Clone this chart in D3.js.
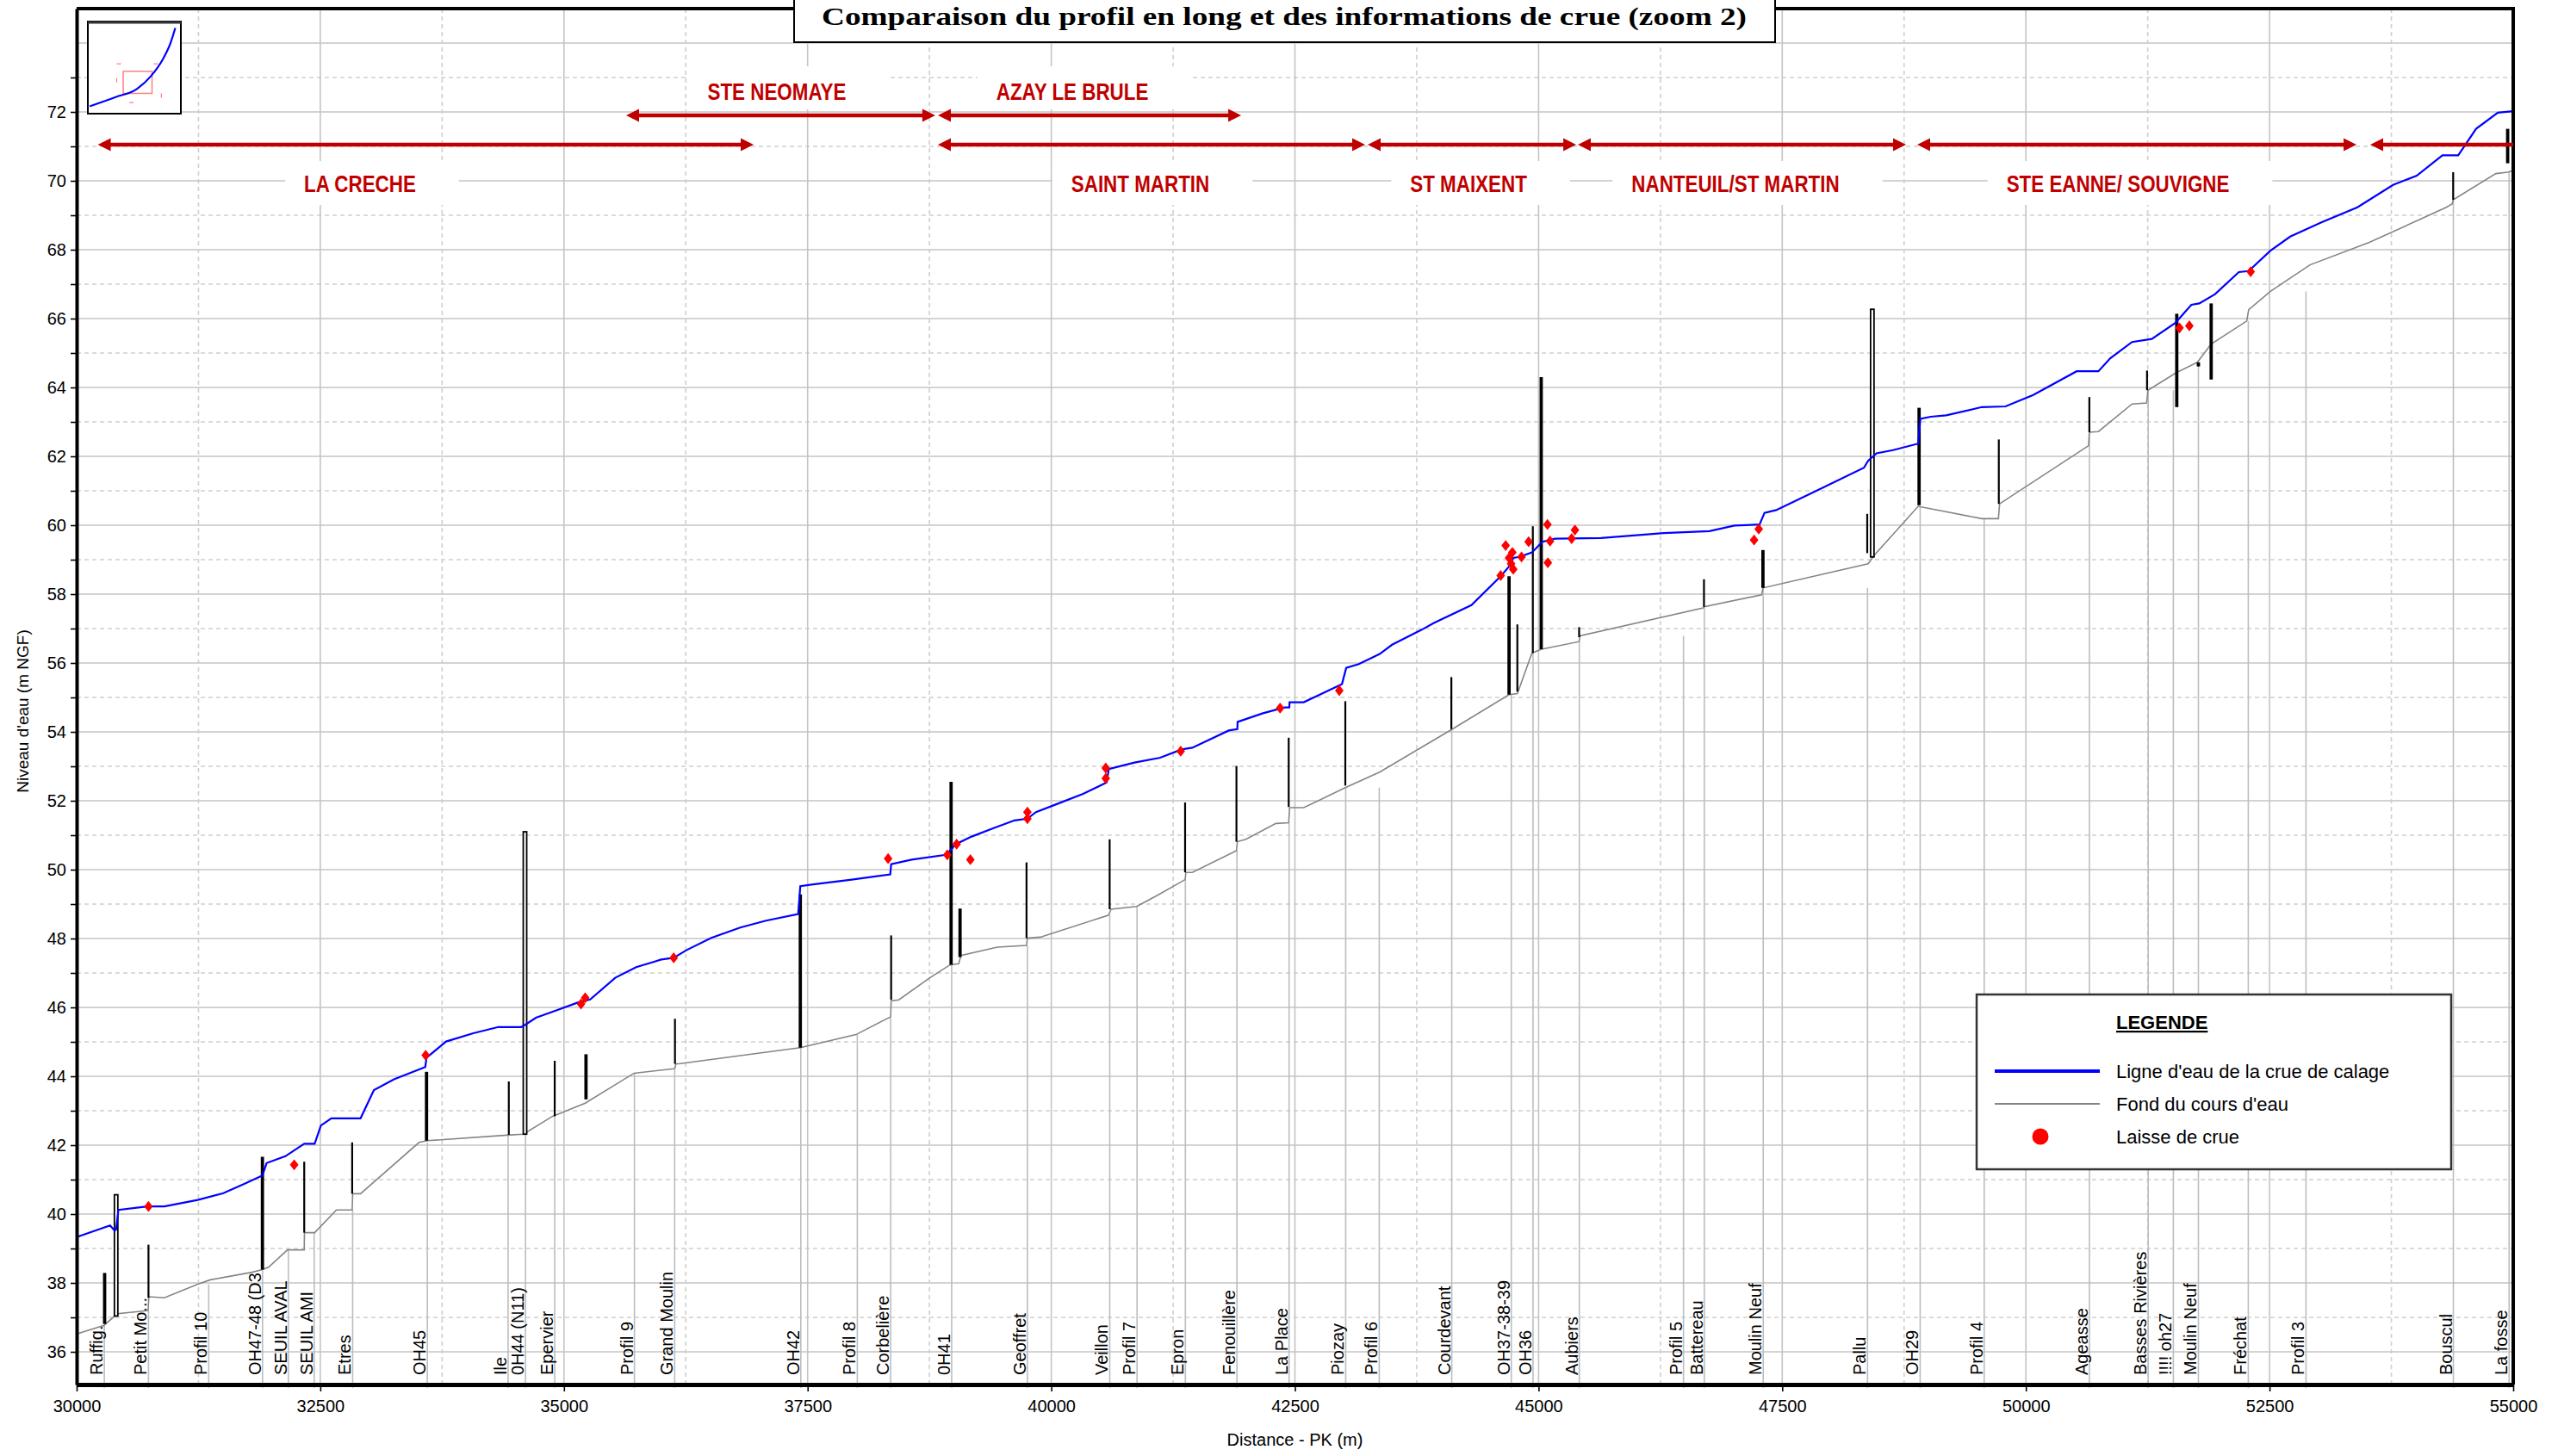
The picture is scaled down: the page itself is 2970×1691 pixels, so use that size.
<!DOCTYPE html>
<html>
<head>
<meta charset="utf-8">
<script src="https://cdn.jsdelivr.net/npm/d3@7"></script>
<style>
body { margin: 0; background: #fff; }
svg { display: block; }
</style>
</head>
<body>
<div id="chart"></div>
<script>
// ligne d'eau de la crue de calage (PK en m, cote en m NGF)
var waterPK = [30000,30343,30390,30405,30428,30728,30900,31242,31500,31714,31906,31949,32142,32335,32442,32506,32613,32913,33050,33256,33577,33590,33791,34070,34327,34562,34605,34712,34927,35141,35269,35526,35741,35998,36126,36255,36512,36809,37073,37403,37412,37425,37557,37952,38348,38357,38568,38919,38985,39007,39183,39403,39623,39755,39843,40062,40326,40568,40590,40854,41117,41337,41447,41821,41909,41912,42172,42392,42442,42445,42590,42983,43026,43155,43369,43497,43797,43926,44311,44611,44697,44740,44804,44932,45040,45168,45639,46282,46753,47010,47267,47318,47438,47910,48338,48381,48467,48638,48895,48917,49024,49182,49548,49791,50075,50521,50744,50866,51089,51292,51535,51698,51779,51941,52185,52286,52509,52712,53037,53402,53767,54010,54274,54436,54619,54842,55000];
var waterZ = [39.33,39.67,39.52,39.55,40.12,40.22,40.22,40.41,40.6,40.87,41.12,41.48,41.68,42.04,42.04,42.57,42.78,42.78,43.6,43.91,44.27,44.54,45.01,45.25,45.43,45.43,45.5,45.7,45.92,46.14,46.23,46.86,47.17,47.39,47.44,47.66,48.02,48.32,48.52,48.71,49.04,49.52,49.57,49.71,49.86,50.16,50.29,50.43,50.62,50.72,50.96,51.2,51.43,51.48,51.67,51.91,52.2,52.53,52.92,53.11,53.25,53.49,53.54,54.04,54.08,54.29,54.54,54.71,54.71,54.86,54.86,55.39,55.86,55.97,56.26,56.53,56.96,57.16,57.68,58.52,58.8,59.05,59.08,59.21,59.52,59.61,59.63,59.77,59.83,59.99,60.02,60.36,60.44,61.08,61.67,61.87,62.09,62.18,62.37,63.09,63.15,63.19,63.43,63.45,63.78,64.47,64.47,64.85,65.32,65.41,65.88,66.4,66.44,66.71,67.35,67.38,67.97,68.38,68.8,69.23,69.88,70.15,70.74,70.74,71.51,71.98,72.02];

// fond du cours d'eau
var bedPK = [30000,30282,30390,30400,30733,30740,30900,31242,31371,31798,31906,31971,32163,32335,32337,32442,32665,32827,32832,32913,33513,33598,34413,34584,34884,35218,35719,36126,36139,36148,36194,37425,37996,38326,38352,38357,38436,38744,38963,39051,39073,39447,39746,39755,39887,40590,40612,40876,41074,41373,41381,41447,41900,41909,41997,42305,42436,42445,42590,43017,43369,44097,44697,44782,44804,44932,45031,45416,45425,46689,46697,47289,47302,48381,48445,48895,49548,49718,49730,50643,50651,50744,51089,51239,51252,51544,51759,51901,52266,52286,52509,52915,53523,54314,54375,54384,54822,54943,55000];
var bedZ = [36.52,36.77,37.04,37.1,37.2,37.6,37.57,37.96,38.09,38.31,38.39,38.46,38.96,38.96,39.46,39.46,40.12,40.12,40.59,40.59,42.08,42.13,42.29,42.32,42.84,43.22,44.09,44.22,44.24,44.36,44.37,44.83,45.21,45.69,45.72,46.19,46.22,46.84,47.24,47.27,47.51,47.75,47.8,48.01,48.04,48.68,48.85,48.93,49.23,49.71,49.92,49.92,50.55,50.81,50.88,51.34,51.36,51.8,51.8,52.38,52.83,54.05,55.08,55.11,55.28,56.29,56.4,56.62,56.79,57.6,57.63,57.98,58.18,58.88,59.13,60.55,60.19,60.19,60.62,62.31,62.7,62.72,63.52,63.55,63.92,64.43,64.73,65.26,65.93,66.26,66.79,67.56,68.21,69.23,69.33,69.45,70.21,70.25,70.3];

// laisses de crue
var laissePK = [30737,32232,33581,35175,35218,36126,38326,38933,39029,39170,39755,39755,40559,40559,41328,42348,42955,44611,44662,44697,44731,44718,44740,44825,44898,45091,45117,45095,45339,45373,47211,47259,51576,51677,52306];
var laisseZ = [40.22,41.43,44.61,46.1,46.28,47.44,50.32,50.43,50.74,50.29,51.67,51.48,52.95,52.65,53.44,54.69,55.2,58.54,59.41,59.05,59.21,58.88,58.72,59.08,59.52,60.02,59.54,58.91,59.61,59.86,59.57,59.89,65.73,65.79,67.36];

// ouvrages (ponts, seuils)
var structPK = [30287,30405,30737,31906,32335,32827,33590,34434,34600,34905,35226,36139,37425,38357,38972,39064,39746,40599,41373,41900,42436,43017,44105,44697,44782,44941,45027,45416,46697,47302,48372,48424,48904,49722,50651,51243,51548,51770,51901,54384,54943];
var structLow = [36.81,37.04,37.57,38.39,39.46,40.59,42.13,42.3,42.32,42.84,43.33,44.36,44.83,46.22,47.24,47.46,48.01,48.85,49.92,50.81,51.82,52.44,54.08,55.08,55.17,56.29,56.4,56.75,57.63,58.18,59.19,59.08,60.58,60.62,62.7,63.92,63.43,64.61,64.23,69.45,70.51];
var structHigh = [38.29,40.56,39.11,41.66,41.52,42.08,44.13,43.85,51.1,44.45,44.64,45.67,49.28,48.09,52.55,48.87,50.21,50.88,51.95,53.01,53.83,54.89,55.59,58.52,57.12,59.97,64.3,57.04,58.43,59.28,60.33,66.27,63.41,62.49,63.72,64.49,66.14,64.73,66.44,70.25,71.51];
var structKind = ["thick","box","thin","thick","thin","thin","thick","thin","box","thin","thick","thin","thick","thin","thick","thick","thin","thin","thin","thin","thin","thin","thin","thick","thin","thin","thick","thin","thin","thick","thin","box","thick","thin","thin","thin","thick","thick","thick","thin","thick"];

// profils en travers
var stationNames = ["Ruffig.","Petit Mo...","Profil 10","OH47-48 (D3","SEUIL AVAL","SEUIL AMI","Etres","OH45","Ile","0H44 (N11)","Epervier","Profil 9","Grand Moulin","OH42","Profil 8","Corbelière","0H41","Geoffret","Veillon","Profil 7","Epron","Fenouillère","La Place","Piozay","Profil 6","Courdevant","OH37-38-39","OH36","Aubiers","Profil 5","Battereau","Moulin Neuf","Pallu","OH29","Profil 4","Ageasse","Basses Rivières","!!!! oh27","Moulin Neuf","Fréchat","Profil 3","Bouscul","La fosse"];
var stationPK = [30284,30737,31355,31907,32172,32437,32832,33598,34427,34605,34905,35723,36136,37430,38010,38352,38978,39755,40600,40880,41376,41905,42440,43021,43365,44109,44720,44943,45418,46487,46700,47305,48375,48915,49572,50652,51255,51513,51770,52282,52874,54386,54958];

// tronçons (communes)
var reachNames = ["STE NEOMAYE","AZAY LE BRULE","LA CRECHE","SAINT MARTIN","ST MAIXENT","NANTEUIL/ST MARTIN","STE EANNE/ SOUVIGNE",""];
var reachStart = [35638,38837,30217,38837,43247,45403,48885,53533];
var reachEnd = [38810,41948,36946,43220,45386,48770,53392,56500];
var reachLabelPK = [37184,40216,32907,40914,44281,47020,50944,0];
var reachRow = [0,0,1,1,1,1,1,1];

// vignette de situation (coordonnées relatives)
var overviewX = [0.02,0.30,0.53,0.68,0.80,0.89,0.94];
var overviewY = [0.08,0.18,0.27,0.41,0.58,0.77,0.93];

var yTicks = d3.range(36, 73, 2);
var xTicks = d3.range(30000, 55001, 2500);

var width = 2970, height = 1691;
var plotL = 89, plotR = 2918, plotT = 10, plotB = 1608;

var x = d3.scaleLinear().domain([30000, 55000]).range([plotL, plotR]);
var y = d3.scaleLinear().domain([35.05, 75]).range([plotB, plotT]);

var svg = d3.select("#chart").append("svg")
    .attr("width", width)
    .attr("height", height)
    .style("background", "#fff");

svg.append("defs").append("clipPath").attr("id", "plotclip")
    .append("rect").attr("x", plotL).attr("y", plotT)
    .attr("width", plotR - plotL).attr("height", plotB - plotT);

// grille
var grid = svg.append("g");
grid.selectAll("line.h")
    .data(d3.range(36, 75)).enter()
    .append("line")
    .attr("x1", plotL).attr("x2", plotR)
    .attr("y1", function(d) { return y(d); })
    .attr("y2", function(d) { return y(d); })
    .attr("stroke", function(d) { return d % 2 ? "#cfcfcf" : "#c4c4c4"; })
    .attr("stroke-width", 1.6)
    .attr("stroke-dasharray", function(d) { return d % 2 ? "5,4" : null; });
grid.selectAll("line.v")
    .data(d3.range(31250, 55000, 1250)).enter()
    .append("line")
    .attr("y1", plotT).attr("y2", plotB)
    .attr("x1", function(d) { return x(d); })
    .attr("x2", function(d) { return x(d); })
    .attr("stroke", function(d) { return d % 2500 ? "#cfcfcf" : "#c4c4c4"; })
    .attr("stroke-width", 1.6)
    .attr("stroke-dasharray", function(d) { return d % 2500 ? "5,4" : null; });

var boxLayer = svg.append("g");

// profils : traits verticaux jusqu'au fond
var bisect = d3.bisector(function(d) { return d; }).left;
function bedAt(pk) {
    var i = bisect(bedPK, pk);
    if (i <= 0) return bedZ[0];
    if (i >= bedPK.length) return bedZ[bedZ.length - 1];
    var t = (pk - bedPK[i - 1]) / (bedPK[i] - bedPK[i - 1]);
    return Math.min(bedZ[i - 1], bedZ[i - 1] + t * (bedZ[i] - bedZ[i - 1]));
}
var stations = stationPK.map(function(pk, i) { return {pk: pk, name: stationNames[i]}; });

svg.append("g").selectAll("line")
    .data(stations).enter()
    .append("line")
    .attr("x1", function(d) { return x(d.pk); })
    .attr("x2", function(d) { return x(d.pk); })
    .attr("y1", plotB + 4)
    .attr("y2", function(d) { return y(bedAt(d.pk)); })
    .attr("stroke", "#bdbdbd")
    .attr("stroke-width", 1.6);

svg.append("g").selectAll("text")
    .data(stations).enter()
    .append("text")
    .attr("transform", function(d) { return "translate(" + (x(d.pk) - 2) + "," + (plotB - 11) + ") rotate(-90)"; })
    .attr("font-family", "'Liberation Sans', Arial, sans-serif")
    .attr("font-size", 20)
    .attr("fill", "#000")
    .text(function(d) { return d.name; });

// fond
var line = d3.line()
    .x(function(d) { return x(d[0]); })
    .y(function(d) { return y(d[1]); });

svg.append("path")
    .datum(bedPK.map(function(pk, i) { return [pk, bedZ[i]]; }))
    .attr("d", line)
    .attr("fill", "none")
    .attr("stroke", "#858585")
    .attr("stroke-width", 1.6);

// ouvrages
var structs = structPK.map(function(pk, i) {
    return {pk: pk, lo: structLow[i], hi: structHigh[i], kind: structKind[i]};
});
var gs = svg.append("g");
gs.selectAll("line")
    .data(structs.filter(function(d) { return d.kind !== "box"; })).enter()
    .append("line")
    .attr("x1", function(d) { return x(d.pk); })
    .attr("x2", function(d) { return x(d.pk); })
    .attr("y1", function(d) { return y(d.lo); })
    .attr("y2", function(d) { return y(d.hi); })
    .attr("stroke", "#000")
    .attr("stroke-width", function(d) { return d.kind === "thick" ? 3.8 : 2.2; });
gs.selectAll("rect")
    .data(structs.filter(function(d) { return d.kind === "box"; })).enter()
    .append("rect")
    .attr("x", function(d) { return x(d.pk) - 2; })
    .attr("y", function(d) { return y(d.hi); })
    .attr("width", 4)
    .attr("height", function(d) { return y(d.lo) - y(d.hi); })
    .attr("fill", "#fff")
    .attr("stroke", "#000")
    .attr("stroke-width", 1.8);

// ligne d'eau
svg.append("path")
    .datum(waterPK.map(function(pk, i) { return [pk, waterZ[i]]; }))
    .attr("d", line)
    .attr("fill", "none")
    .attr("stroke", "#0000ff")
    .attr("stroke-width", 2.2);

// laisses
var diamond = d3.symbol().type(d3.symbolSquare).size(62);
svg.append("g").selectAll("path")
    .data(laissePK.map(function(pk, i) { return [pk, laisseZ[i]]; })).enter()
    .append("path")
    .attr("d", diamond)
    .attr("transform", function(d) { return "translate(" + x(d[0]) + "," + y(d[1]) + ") scale(0.9,1.15) rotate(45)"; })
    .attr("fill", "#ff0000");

// axes
var axisFont = "'Liberation Sans', Arial, sans-serif";
var yAxis = d3.axisLeft(y).tickValues(yTicks).tickSize(7).tickSizeOuter(0).tickPadding(5).tickFormat(d3.format("d"));
var gy = svg.append("g").attr("transform", "translate(" + plotL + ",0)").call(yAxis);
svg.append("g").attr("transform", "translate(" + plotL + ",0)")
    .call(d3.axisLeft(y).tickValues(d3.range(37, 75, 2)).tickSize(7).tickSizeOuter(0).tickFormat(""))
    .select(".domain").remove();
var gx = svg.append("g").attr("transform", "translate(0," + plotB + ")")
    .call(d3.axisBottom(x).tickValues(xTicks).tickSize(8).tickSizeOuter(0).tickPadding(10).tickFormat(d3.format("d")));
svg.selectAll(".tick line").attr("stroke", "#000").attr("stroke-width", 1.6);
svg.selectAll(".tick text").attr("font-family", axisFont).attr("font-size", 20).attr("fill", "#000");
gy.select(".domain").attr("stroke-width", 4);
gx.select(".domain").attr("stroke-width", 5);

// cadre haut et droite
svg.append("line").attr("x1", plotL).attr("x2", plotR + 2).attr("y1", plotT).attr("y2", plotT)
    .attr("stroke", "#000").attr("stroke-width", 4);
svg.append("line").attr("x1", plotR).attr("x2", plotR).attr("y1", plotT).attr("y2", plotB)
    .attr("stroke", "#000").attr("stroke-width", 4);

svg.append("text")
    .attr("x", (x.range()[0] + x.range()[1]) / 2)
    .attr("y", 1679)
    .attr("text-anchor", "middle")
    .attr("font-family", axisFont)
    .attr("font-size", 20)
    .text("Distance - PK (m)");
svg.append("text")
    .attr("transform", "translate(33,826) rotate(-90)")
    .attr("text-anchor", "middle")
    .attr("font-family", axisFont)
    .attr("font-size", 19)
    .text("Niveau d'eau (m NGF)");

// tronçons
var red = "#c00000";
var rowArrowY = [134, 168], rowTextY = [106, 213], rowBoxY = [[77, 127], [187, 238]];
var reaches = reachNames.map(function(n, i) {
    return {name: n, s: reachStart[i], e: reachEnd[i], lab: reachLabelPK[i], row: reachRow[i]};
});
var ga = svg.append("g").attr("clip-path", "url(#plotclip)");
reaches.forEach(function(r) {
    var ay = rowArrowY[r.row], x0 = x(r.s), x1 = x(r.e), hl = 15, hh = 7.5;
    ga.append("line").attr("x1", x0 + hl - 2).attr("x2", x1 - hl + 2).attr("y1", ay).attr("y2", ay)
        .attr("stroke", red).attr("stroke-width", 4.5);
    ga.append("path").attr("d", "M" + x0 + "," + ay + "L" + (x0 + hl) + "," + (ay - hh) + "L" + (x0 + hl) + "," + (ay + hh) + "Z")
        .attr("fill", red);
    ga.append("path").attr("d", "M" + x1 + "," + ay + "L" + (x1 - hl) + "," + (ay - hh) + "L" + (x1 - hl) + "," + (ay + hh) + "Z")
        .attr("fill", red);
    if (!r.name) return;
    var gt = svg.append("g").attr("transform", "translate(" + x(r.lab) + "," + rowTextY[r.row] + ") scale(0.8,1)");
    var t = gt.append("text")
        .attr("text-anchor", "middle")
        .attr("dy", "0.36em")
        .attr("font-family", "'Liberation Sans', Arial, sans-serif")
        .attr("font-weight", "bold")
        .attr("font-size", 28)
        .attr("fill", red)
        .text(r.name);
    var w = t.node().getComputedTextLength() * 0.8;
    boxLayer.append("rect")
        .attr("x", x(r.lab) - w / 2 - 22)
        .attr("y", rowBoxY[r.row][0])
        .attr("width", w + 72)
        .attr("height", rowBoxY[r.row][1] - rowBoxY[r.row][0])
        .attr("fill", "#fff");
});

// titre
svg.append("rect").attr("x", 922).attr("y", -3).attr("width", 1139).attr("height", 52)
    .attr("fill", "#fff").attr("stroke", "#000").attr("stroke-width", 2);
svg.append("text")
    .attr("x", 1491).attr("y", 29)
    .attr("text-anchor", "middle")
    .attr("font-family", "'Liberation Serif', 'Times New Roman', serif")
    .attr("font-weight", "bold")
    .attr("font-size", 30)
    .attr("textLength", 1074)
    .attr("lengthAdjust", "spacingAndGlyphs")
    .text("Comparaison du profil en long et des informations de crue (zoom 2)");

// vignette
var ix = d3.scaleLinear().domain([0, 1]).range([102, 210]);
var iy = d3.scaleLinear().domain([0, 1]).range([132, 25]);
var gi = svg.append("g");
gi.append("rect").attr("x", 102).attr("y", 25).attr("width", 108).attr("height", 107)
    .attr("fill", "#fff").attr("stroke", "#000").attr("stroke-width", 2);
gi.append("line").attr("x1", 102).attr("x2", 210).attr("y1", 26).attr("y2", 26)
    .attr("stroke", "#333").attr("stroke-width", 3);
gi.append("rect").attr("x", ix(0.38)).attr("y", iy(0.46)).attr("width", ix(0.69) - ix(0.38)).attr("height", iy(0.22) - iy(0.46))
    .attr("fill", "none").attr("stroke", "#ff8080").attr("stroke-width", 1.5);
gi.append("rect").attr("x", ix(0.31)).attr("y", iy(0.54)).attr("width", ix(0.79) - ix(0.31)).attr("height", iy(0.12) - iy(0.54))
    .attr("fill", "none").attr("stroke", "#ff8080").attr("stroke-width", 1.2).attr("stroke-dasharray", "5,38");
gi.append("path")
    .datum(overviewX.map(function(v, i) { return [v, overviewY[i]]; }))
    .attr("d", d3.line().curve(d3.curveMonotoneX).x(function(d) { return ix(d[0]); }).y(function(d) { return iy(d[1]); }))
    .attr("fill", "none").attr("stroke", "#0000ff").attr("stroke-width", 2.2);

// légende
var gl = svg.append("g");
gl.append("rect").attr("x", 2295).attr("y", 1155).attr("width", 551).attr("height", 203)
    .attr("fill", "#fff").attr("stroke", "#333").attr("stroke-width", 2.5);
gl.append("text").attr("x", 2457).attr("y", 1195)
    .attr("font-family", axisFont).attr("font-weight", "bold").attr("font-size", 22)
    .attr("text-decoration", "underline")
    .text("LEGENDE");
gl.append("line").attr("x1", 2316).attr("x2", 2438).attr("y1", 1244).attr("y2", 1244)
    .attr("stroke", "#0000ff").attr("stroke-width", 4);
gl.append("line").attr("x1", 2316).attr("x2", 2438).attr("y1", 1282).attr("y2", 1282)
    .attr("stroke", "#858585").attr("stroke-width", 2);
gl.append("circle").attr("cx", 2369).attr("cy", 1320).attr("r", 9.5).attr("fill", "#ff0000");
[["Ligne d'eau de la crue de calage", 1244], ["Fond du cours d'eau", 1282], ["Laisse de crue", 1320]].forEach(function(d) {
    gl.append("text").attr("x", 2457).attr("y", d[1]).attr("dy", "0.36em")
        .attr("font-family", axisFont).attr("font-size", 22).text(d[0]);
});
</script>
</body>
</html>
